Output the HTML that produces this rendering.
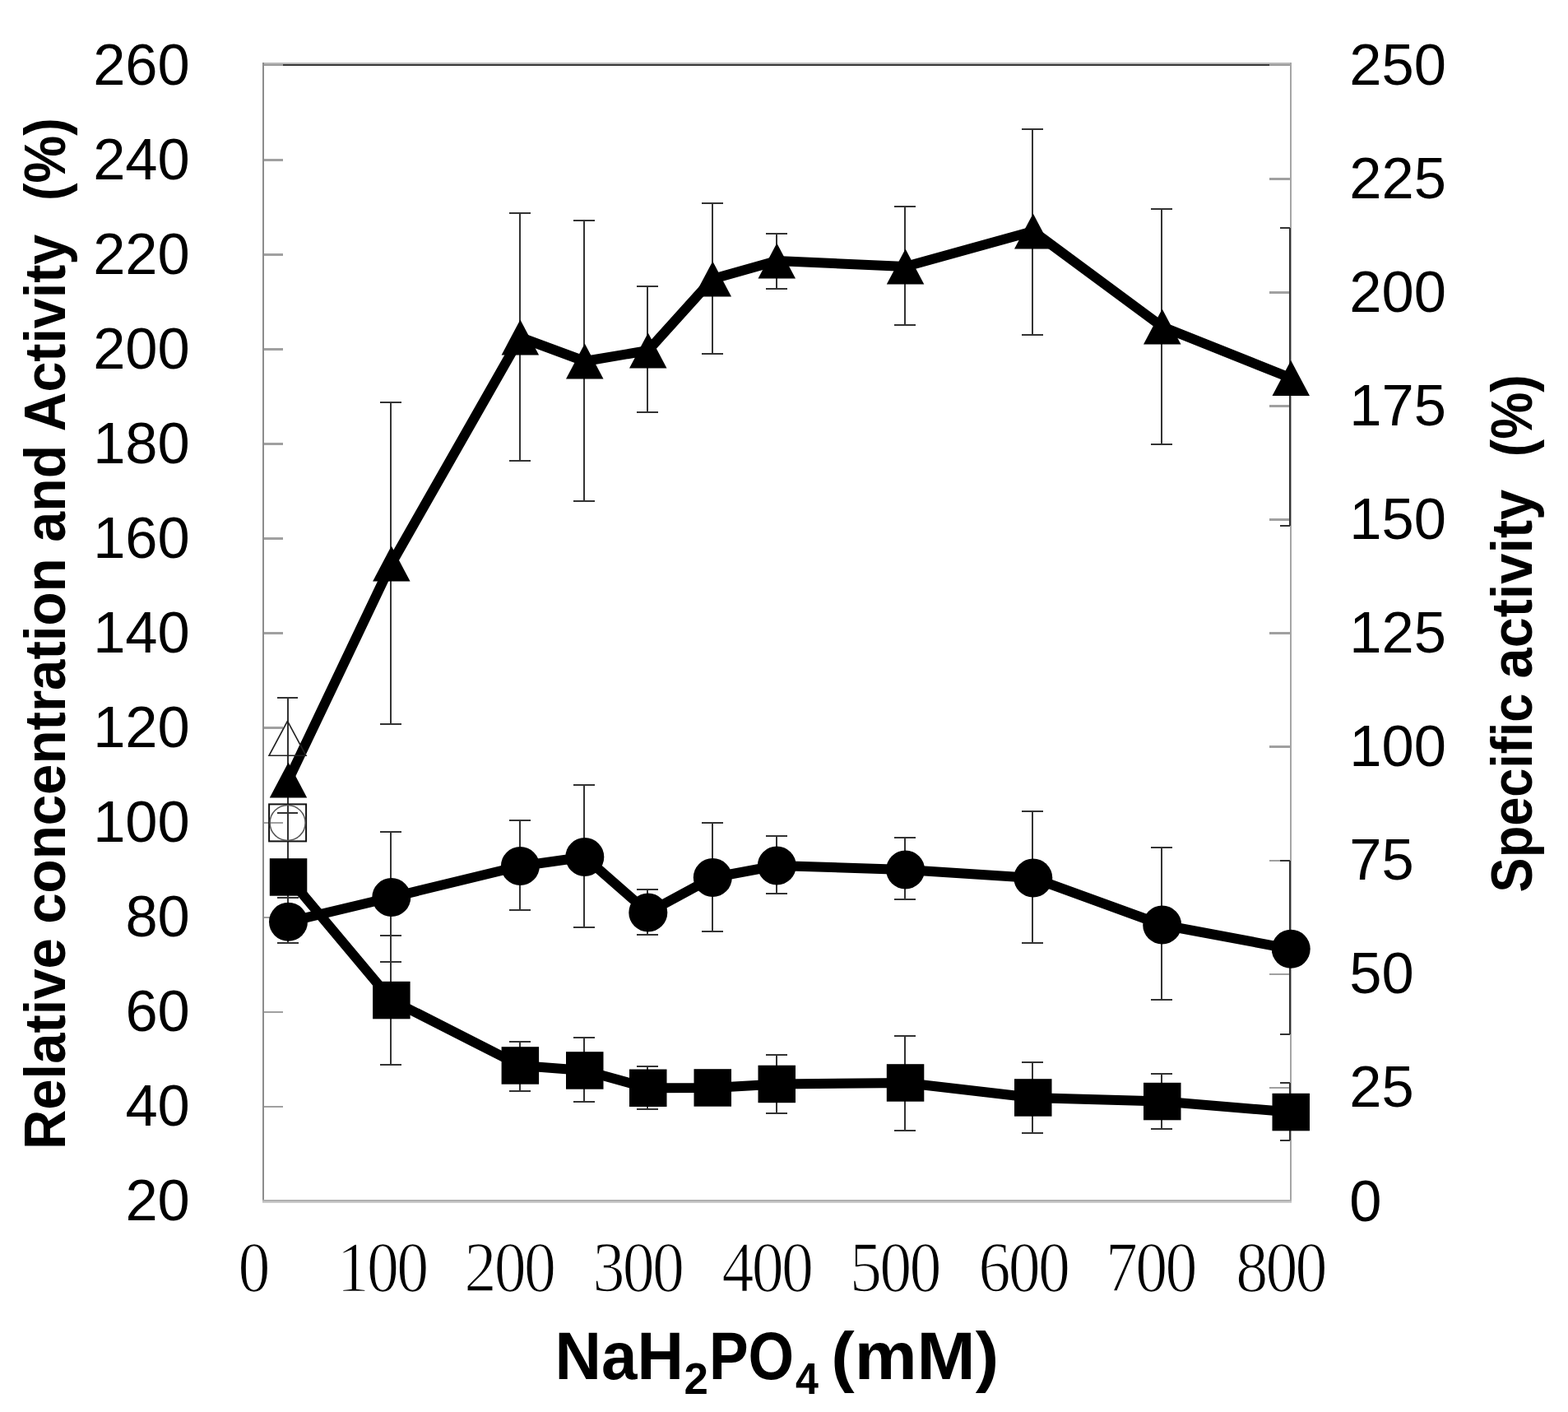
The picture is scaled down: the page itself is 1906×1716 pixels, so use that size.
<!DOCTYPE html>
<html><head><meta charset="utf-8"><title>NaH2PO4 chart</title>
<style>
html,body{margin:0;padding:0;background:#fff;}
body{width:1906px;height:1716px;overflow:hidden;}
svg{display:block;}
text{white-space:pre;font-kerning:none;}
</style></head><body>
<svg width="1906" height="1716" viewBox="0 0 1906 1716">
<rect x="0" y="0" width="1906" height="1716" fill="#fff"/>
<g shape-rendering="crispEdges"><rect x="319" y="76" width="1251" height="2" fill="#b8b8b8"/><rect x="319" y="78" width="1251" height="2" fill="#9a9a9a"/><rect x="344" y="78" width="1199" height="2" fill="#363636"/><rect x="319" y="76" width="2" height="1386" fill="#8c8c8c"/><rect x="1568" y="76" width="2" height="1386" fill="#a6a6a6"/><rect x="319" y="1458" width="1251" height="2" fill="#b0b0b0"/><rect x="319" y="1460" width="1251" height="2" fill="#cacaca"/><rect x="321" y="193.3" width="23" height="2.2" fill="#a0a0a0"/><rect x="321" y="308.3" width="23" height="2.2" fill="#a0a0a0"/><rect x="321" y="423.4" width="23" height="2.2" fill="#a0a0a0"/><rect x="321" y="538.4" width="23" height="2.2" fill="#a0a0a0"/><rect x="321" y="653.4" width="23" height="2.2" fill="#a0a0a0"/><rect x="321" y="768.4" width="23" height="2.2" fill="#a0a0a0"/><rect x="321" y="883.4" width="23" height="2.2" fill="#a0a0a0"/><rect x="321" y="998.5" width="23" height="2.2" fill="#a0a0a0"/><rect x="321" y="1113.5" width="23" height="2.2" fill="#a0a0a0"/><rect x="321" y="1228.5" width="23" height="2.2" fill="#a0a0a0"/><rect x="321" y="1343.5" width="23" height="2.2" fill="#a0a0a0"/><rect x="1543" y="216.3" width="25" height="2.2" fill="#a0a0a0"/><rect x="1543" y="354.4" width="25" height="2.2" fill="#a0a0a0"/><rect x="1543" y="492.4" width="25" height="2.2" fill="#a0a0a0"/><rect x="1543" y="630.4" width="25" height="2.2" fill="#a0a0a0"/><rect x="1543" y="768.4" width="25" height="2.2" fill="#a0a0a0"/><rect x="1543" y="906.4" width="25" height="2.2" fill="#a0a0a0"/><rect x="1543" y="1044.5" width="25" height="2.2" fill="#a0a0a0"/><rect x="1543" y="1182.5" width="25" height="2.2" fill="#a0a0a0"/><rect x="1543" y="1320.5" width="25" height="2.2" fill="#a0a0a0"/></g>
<g stroke="#333" stroke-width="2" fill="none" shape-rendering="crispEdges"><line x1="475.0" y1="489.2" x2="475.0" y2="879.7"/><line x1="462.0" y1="489.2" x2="488.0" y2="489.2"/><line x1="462.0" y1="879.7" x2="488.0" y2="879.7"/><line x1="631.6" y1="258.8" x2="631.6" y2="560.4"/><line x1="618.6" y1="258.8" x2="644.6" y2="258.8"/><line x1="618.6" y1="560.4" x2="644.6" y2="560.4"/><line x1="710.0" y1="267.7" x2="710.0" y2="608.8"/><line x1="697.0" y1="267.7" x2="723.0" y2="267.7"/><line x1="697.0" y1="608.8" x2="723.0" y2="608.8"/><line x1="787.0" y1="348.3" x2="787.0" y2="501.2"/><line x1="774.0" y1="348.3" x2="800.0" y2="348.3"/><line x1="774.0" y1="501.2" x2="800.0" y2="501.2"/><line x1="865.5" y1="246.9" x2="865.5" y2="429.6"/><line x1="852.5" y1="246.9" x2="878.5" y2="246.9"/><line x1="852.5" y1="429.6" x2="878.5" y2="429.6"/><line x1="943.5" y1="283.8" x2="943.5" y2="350.8"/><line x1="930.5" y1="283.8" x2="956.5" y2="283.8"/><line x1="930.5" y1="350.8" x2="956.5" y2="350.8"/><line x1="1099.8" y1="251.4" x2="1099.8" y2="394.5"/><line x1="1086.8" y1="251.4" x2="1112.8" y2="251.4"/><line x1="1086.8" y1="394.5" x2="1112.8" y2="394.5"/><line x1="1255.0" y1="156.8" x2="1255.0" y2="406.8"/><line x1="1242.0" y1="156.8" x2="1268.0" y2="156.8"/><line x1="1242.0" y1="406.8" x2="1268.0" y2="406.8"/><line x1="1411.9" y1="253.9" x2="1411.9" y2="540.3"/><line x1="1398.9" y1="253.9" x2="1424.9" y2="253.9"/><line x1="1398.9" y1="540.3" x2="1424.9" y2="540.3"/><line x1="1568.4" y1="276.7" x2="1568.4" y2="639.4"/><line x1="1556.4" y1="276.7" x2="1568.4" y2="276.7"/><line x1="1556.4" y1="639.4" x2="1568.4" y2="639.4"/><line x1="349.7" y1="1091.0" x2="349.7" y2="1145.7"/><line x1="336.7" y1="1091.0" x2="362.7" y2="1091.0"/><line x1="336.7" y1="1145.7" x2="362.7" y2="1145.7"/><line x1="475.0" y1="1011.4" x2="475.0" y2="1169.2"/><line x1="462.0" y1="1011.4" x2="488.0" y2="1011.4"/><line x1="462.0" y1="1169.2" x2="488.0" y2="1169.2"/><line x1="631.6" y1="997.4" x2="631.6" y2="1106.3"/><line x1="618.6" y1="997.4" x2="644.6" y2="997.4"/><line x1="618.6" y1="1106.3" x2="644.6" y2="1106.3"/><line x1="710.0" y1="953.9" x2="710.0" y2="1127.3"/><line x1="697.0" y1="953.9" x2="723.0" y2="953.9"/><line x1="697.0" y1="1127.3" x2="723.0" y2="1127.3"/><line x1="787.0" y1="1081.4" x2="787.0" y2="1136.3"/><line x1="774.0" y1="1081.4" x2="800.0" y2="1081.4"/><line x1="774.0" y1="1136.3" x2="800.0" y2="1136.3"/><line x1="865.5" y1="999.9" x2="865.5" y2="1131.5"/><line x1="852.5" y1="999.9" x2="878.5" y2="999.9"/><line x1="852.5" y1="1131.5" x2="878.5" y2="1131.5"/><line x1="943.5" y1="1016.1" x2="943.5" y2="1085.6"/><line x1="930.5" y1="1016.1" x2="956.5" y2="1016.1"/><line x1="930.5" y1="1085.6" x2="956.5" y2="1085.6"/><line x1="1099.8" y1="1018.4" x2="1099.8" y2="1092.7"/><line x1="1086.8" y1="1018.4" x2="1112.8" y2="1018.4"/><line x1="1086.8" y1="1092.7" x2="1112.8" y2="1092.7"/><line x1="1255.0" y1="986.2" x2="1255.0" y2="1145.7"/><line x1="1242.0" y1="986.2" x2="1268.0" y2="986.2"/><line x1="1242.0" y1="1145.7" x2="1268.0" y2="1145.7"/><line x1="1411.9" y1="1030.3" x2="1411.9" y2="1215.0"/><line x1="1398.9" y1="1030.3" x2="1424.9" y2="1030.3"/><line x1="1398.9" y1="1215.0" x2="1424.9" y2="1215.0"/><line x1="1568.4" y1="1046.0" x2="1568.4" y2="1256.7"/><line x1="1556.4" y1="1046.0" x2="1568.4" y2="1046.0"/><line x1="1556.4" y1="1256.7" x2="1568.4" y2="1256.7"/><line x1="475.0" y1="1136.6" x2="475.0" y2="1293.6"/><line x1="462.0" y1="1136.6" x2="488.0" y2="1136.6"/><line x1="462.0" y1="1293.6" x2="488.0" y2="1293.6"/><line x1="631.6" y1="1265.6" x2="631.6" y2="1325.7"/><line x1="618.6" y1="1265.6" x2="644.6" y2="1265.6"/><line x1="618.6" y1="1325.7" x2="644.6" y2="1325.7"/><line x1="710.0" y1="1261.0" x2="710.0" y2="1339.3"/><line x1="697.0" y1="1261.0" x2="723.0" y2="1261.0"/><line x1="697.0" y1="1339.3" x2="723.0" y2="1339.3"/><line x1="787.0" y1="1295.9" x2="787.0" y2="1348.3"/><line x1="774.0" y1="1295.9" x2="800.0" y2="1295.9"/><line x1="774.0" y1="1348.3" x2="800.0" y2="1348.3"/><line x1="865.5" y1="1308.0" x2="865.5" y2="1336.0"/><line x1="852.5" y1="1308.0" x2="878.5" y2="1308.0"/><line x1="852.5" y1="1336.0" x2="878.5" y2="1336.0"/><line x1="943.5" y1="1281.7" x2="943.5" y2="1353.1"/><line x1="930.5" y1="1281.7" x2="956.5" y2="1281.7"/><line x1="930.5" y1="1353.1" x2="956.5" y2="1353.1"/><line x1="1099.8" y1="1258.9" x2="1099.8" y2="1374.4"/><line x1="1086.8" y1="1258.9" x2="1112.8" y2="1258.9"/><line x1="1086.8" y1="1374.4" x2="1112.8" y2="1374.4"/><line x1="1255.0" y1="1291.2" x2="1255.0" y2="1376.7"/><line x1="1242.0" y1="1291.2" x2="1268.0" y2="1291.2"/><line x1="1242.0" y1="1376.7" x2="1268.0" y2="1376.7"/><line x1="1411.9" y1="1305.3" x2="1411.9" y2="1372.0"/><line x1="1398.9" y1="1305.3" x2="1424.9" y2="1305.3"/><line x1="1398.9" y1="1372.0" x2="1424.9" y2="1372.0"/><line x1="1568.4" y1="1316.3" x2="1568.4" y2="1385.5"/><line x1="1556.4" y1="1316.3" x2="1568.4" y2="1316.3"/><line x1="1556.4" y1="1385.5" x2="1568.4" y2="1385.5"/><line x1="349.5" y1="847.8" x2="349.5" y2="946.8"/><line x1="337.3" y1="847.8" x2="361.9" y2="847.8"/><line x1="349.5" y1="946" x2="349.5" y2="1100"/><line x1="337.3" y1="988.4" x2="361.9" y2="988.4"/></g>
<polyline points="350.5,948.0 475.8,685.0 632.4,410.0 710.8,439.0 787.8,426.0 866.3,339.0 944.3,317.0 1100.6,324.0 1255.8,281.0 1412.7,397.0 1569.2,459.5" fill="none" stroke="#000" stroke-width="12" stroke-linejoin="round" stroke-linecap="butt"/>
<polyline points="350.5,1120.3 475.8,1090.5 632.4,1052.5 710.8,1041.5 787.8,1109.0 866.3,1066.5 944.3,1052.0 1100.6,1057.0 1255.8,1067.0 1412.7,1124.0 1569.2,1153.3" fill="none" stroke="#000" stroke-width="12" stroke-linejoin="round" stroke-linecap="butt"/>
<polyline points="350.5,1066.0 475.8,1215.5 632.4,1295.0 710.8,1301.0 787.8,1322.3 866.3,1322.0 944.3,1317.4 1100.6,1316.0 1255.8,1334.0 1412.7,1338.5 1569.2,1351.5" fill="none" stroke="#000" stroke-width="12" stroke-linejoin="round" stroke-linecap="butt"/>
<g><polygon points="350.5,926.5 373.2,969.5 327.8,969.5" fill="#000" stroke="none" stroke-width="0"/><polygon points="475.8,663.5 498.6,706.5 453.1,706.5" fill="#000" stroke="none" stroke-width="0"/><polygon points="632.4,388.5 655.1,431.5 609.6,431.5" fill="#000" stroke="none" stroke-width="0"/><polygon points="710.8,417.5 733.5,460.5 688.0,460.5" fill="#000" stroke="none" stroke-width="0"/><polygon points="787.8,404.5 810.5,447.5 765.0,447.5" fill="#000" stroke="none" stroke-width="0"/><polygon points="866.3,317.5 889.0,360.5 843.5,360.5" fill="#000" stroke="none" stroke-width="0"/><polygon points="944.3,295.5 967.0,338.5 921.5,338.5" fill="#000" stroke="none" stroke-width="0"/><polygon points="1100.6,302.5 1123.3,345.5 1077.8,345.5" fill="#000" stroke="none" stroke-width="0"/><polygon points="1255.8,259.5 1278.5,302.5 1233.0,302.5" fill="#000" stroke="none" stroke-width="0"/><polygon points="1412.7,375.5 1435.5,418.5 1390.0,418.5" fill="#000" stroke="none" stroke-width="0"/><polygon points="1569.2,438.0 1592.0,481.0 1546.5,481.0" fill="#000" stroke="none" stroke-width="0"/><circle cx="350.5" cy="1120.3" r="23.5" fill="#000" stroke="none" stroke-width="0"/><circle cx="475.8" cy="1090.5" r="23.5" fill="#000" stroke="none" stroke-width="0"/><circle cx="632.4" cy="1052.5" r="23.5" fill="#000" stroke="none" stroke-width="0"/><circle cx="710.8" cy="1041.5" r="23.5" fill="#000" stroke="none" stroke-width="0"/><circle cx="787.8" cy="1109.0" r="23.5" fill="#000" stroke="none" stroke-width="0"/><circle cx="866.3" cy="1066.5" r="23.5" fill="#000" stroke="none" stroke-width="0"/><circle cx="944.3" cy="1052.0" r="23.5" fill="#000" stroke="none" stroke-width="0"/><circle cx="1100.6" cy="1057.0" r="23.5" fill="#000" stroke="none" stroke-width="0"/><circle cx="1255.8" cy="1067.0" r="23.5" fill="#000" stroke="none" stroke-width="0"/><circle cx="1412.7" cy="1124.0" r="23.5" fill="#000" stroke="none" stroke-width="0"/><circle cx="1569.2" cy="1153.3" r="23.5" fill="#000" stroke="none" stroke-width="0"/><rect x="327.8" y="1043.2" width="45.5" height="45.5" fill="#000" stroke="none" stroke-width="0"/><rect x="453.1" y="1192.8" width="45.5" height="45.5" fill="#000" stroke="none" stroke-width="0"/><rect x="609.6" y="1272.2" width="45.5" height="45.5" fill="#000" stroke="none" stroke-width="0"/><rect x="688.0" y="1278.2" width="45.5" height="45.5" fill="#000" stroke="none" stroke-width="0"/><rect x="765.0" y="1299.5" width="45.5" height="45.5" fill="#000" stroke="none" stroke-width="0"/><rect x="843.5" y="1299.2" width="45.5" height="45.5" fill="#000" stroke="none" stroke-width="0"/><rect x="921.5" y="1294.7" width="45.5" height="45.5" fill="#000" stroke="none" stroke-width="0"/><rect x="1077.8" y="1293.2" width="45.5" height="45.5" fill="#000" stroke="none" stroke-width="0"/><rect x="1233.0" y="1311.2" width="45.5" height="45.5" fill="#000" stroke="none" stroke-width="0"/><rect x="1390.0" y="1315.8" width="45.5" height="45.5" fill="#000" stroke="none" stroke-width="0"/><rect x="1546.5" y="1328.8" width="45.5" height="45.5" fill="#000" stroke="none" stroke-width="0"/><polygon points="349.5,876.3 372.0,918.3 327.0,918.3" fill="none" stroke="#222" stroke-width="1.6"/><rect x="327.1" y="977.4" width="45.0" height="45.0" fill="none" stroke="#111" stroke-width="2"/><circle cx="349.6" cy="999.9" r="21.5" fill="none" stroke="#555" stroke-width="1.5"/></g>
<g font-family="&quot;Liberation Sans&quot;, Arial, sans-serif" font-size="70.5" fill="#000"><text x="230.8" y="103.2" text-anchor="end">260</text><text x="230.8" y="218.2" text-anchor="end">240</text><text x="230.8" y="333.2" text-anchor="end">220</text><text x="230.8" y="448.3" text-anchor="end">200</text><text x="230.8" y="563.3" text-anchor="end">180</text><text x="230.8" y="678.3" text-anchor="end">160</text><text x="230.8" y="793.3" text-anchor="end">140</text><text x="230.8" y="908.3" text-anchor="end">120</text><text x="230.8" y="1023.4" text-anchor="end">100</text><text x="230.8" y="1138.4" text-anchor="end">80</text><text x="230.8" y="1253.4" text-anchor="end">60</text><text x="230.8" y="1368.4" text-anchor="end">40</text><text x="230.8" y="1483.4" text-anchor="end">20</text><text x="1640.3" y="103.2">250</text><text x="1640.3" y="241.2">225</text><text x="1640.3" y="379.3">200</text><text x="1640.3" y="517.3">175</text><text x="1640.3" y="655.3">150</text><text x="1640.3" y="793.3">125</text><text x="1640.3" y="931.3">100</text><text x="1640.3" y="1069.4">75</text><text x="1640.3" y="1207.4">50</text><text x="1640.3" y="1345.4">25</text><text x="1640.3" y="1483.5">0</text></g>
<g font-family="&quot;Liberation Serif&quot;, &quot;Times New Roman&quot;, serif" font-size="86.8" fill="#000" letter-spacing="-3" stroke="#fff" stroke-width="1.4"><text transform="translate(307.5 1568.7) scale(0.897 1)" text-anchor="middle">0</text><text transform="translate(464.2 1568.7) scale(0.897 1)" text-anchor="middle">100</text><text transform="translate(618.8 1568.7) scale(0.897 1)" text-anchor="middle">200</text><text transform="translate(774.9 1568.7) scale(0.897 1)" text-anchor="middle">300</text><text transform="translate(931.9 1568.7) scale(0.897 1)" text-anchor="middle">400</text><text transform="translate(1087.4 1568.7) scale(0.897 1)" text-anchor="middle">500</text><text transform="translate(1243.8 1568.7) scale(0.897 1)" text-anchor="middle">600</text><text transform="translate(1398.4 1568.7) scale(0.897 1)" text-anchor="middle">700</text><text transform="translate(1556.5 1568.7) scale(0.897 1)" text-anchor="middle">800</text></g>
<g font-family="&quot;Liberation Sans&quot;, Arial, sans-serif" font-weight="bold" fill="#000"><text transform="translate(79 1392.2) rotate(-90) scale(0.9596 1)" x="0" y="0" font-size="69.8" dx="-5">Relative</text><text transform="translate(79 1119.9) rotate(-90) scale(0.9632 1)" x="0" y="0" font-size="69.8" dx="-3">concentration</text><text transform="translate(79 656.8) rotate(-90) scale(0.9496 1)" x="0" y="0" font-size="69.8" dx="-2">and</text><text transform="translate(79 522.6) rotate(-90) scale(0.9506 1)" x="0" y="0" font-size="69.8" dx="-2">Activity</text><text transform="translate(79 241.2) rotate(-90) scale(0.9294 1)" x="0" y="0" font-size="69.8" dx="-3">(%)</text><text transform="translate(1862 1082.6) rotate(-90) scale(0.9034 1)" x="0" y="0" font-size="69.8" dx="-2">Specific</text><text transform="translate(1862 822.5) rotate(-90) scale(0.9542 1)" x="0" y="0" font-size="69.8" dx="-2">activity</text><text transform="translate(1862 552.5) rotate(-90) scale(0.9216 1)" x="0" y="0" font-size="69.8" dx="-3">(%)</text><text transform="translate(679.4 1675.8) scale(0.9605 1)" font-size="81.4" dx="-5">NaH</text><text transform="translate(833.4 1694) scale(0.9808 1)" font-size="53.9" dx="-2">2</text><text transform="translate(866.3 1675.8) scale(0.8780 1)" font-size="81.4" dx="-5">PO</text><text transform="translate(968 1694) scale(0.9310 1)" font-size="53.9" dx="-1">4</text><text transform="translate(1014.4 1675.8) scale(1.0495 1)" font-size="81.4" dx="-4">(mM)</text></g>
</svg>
</body></html>
